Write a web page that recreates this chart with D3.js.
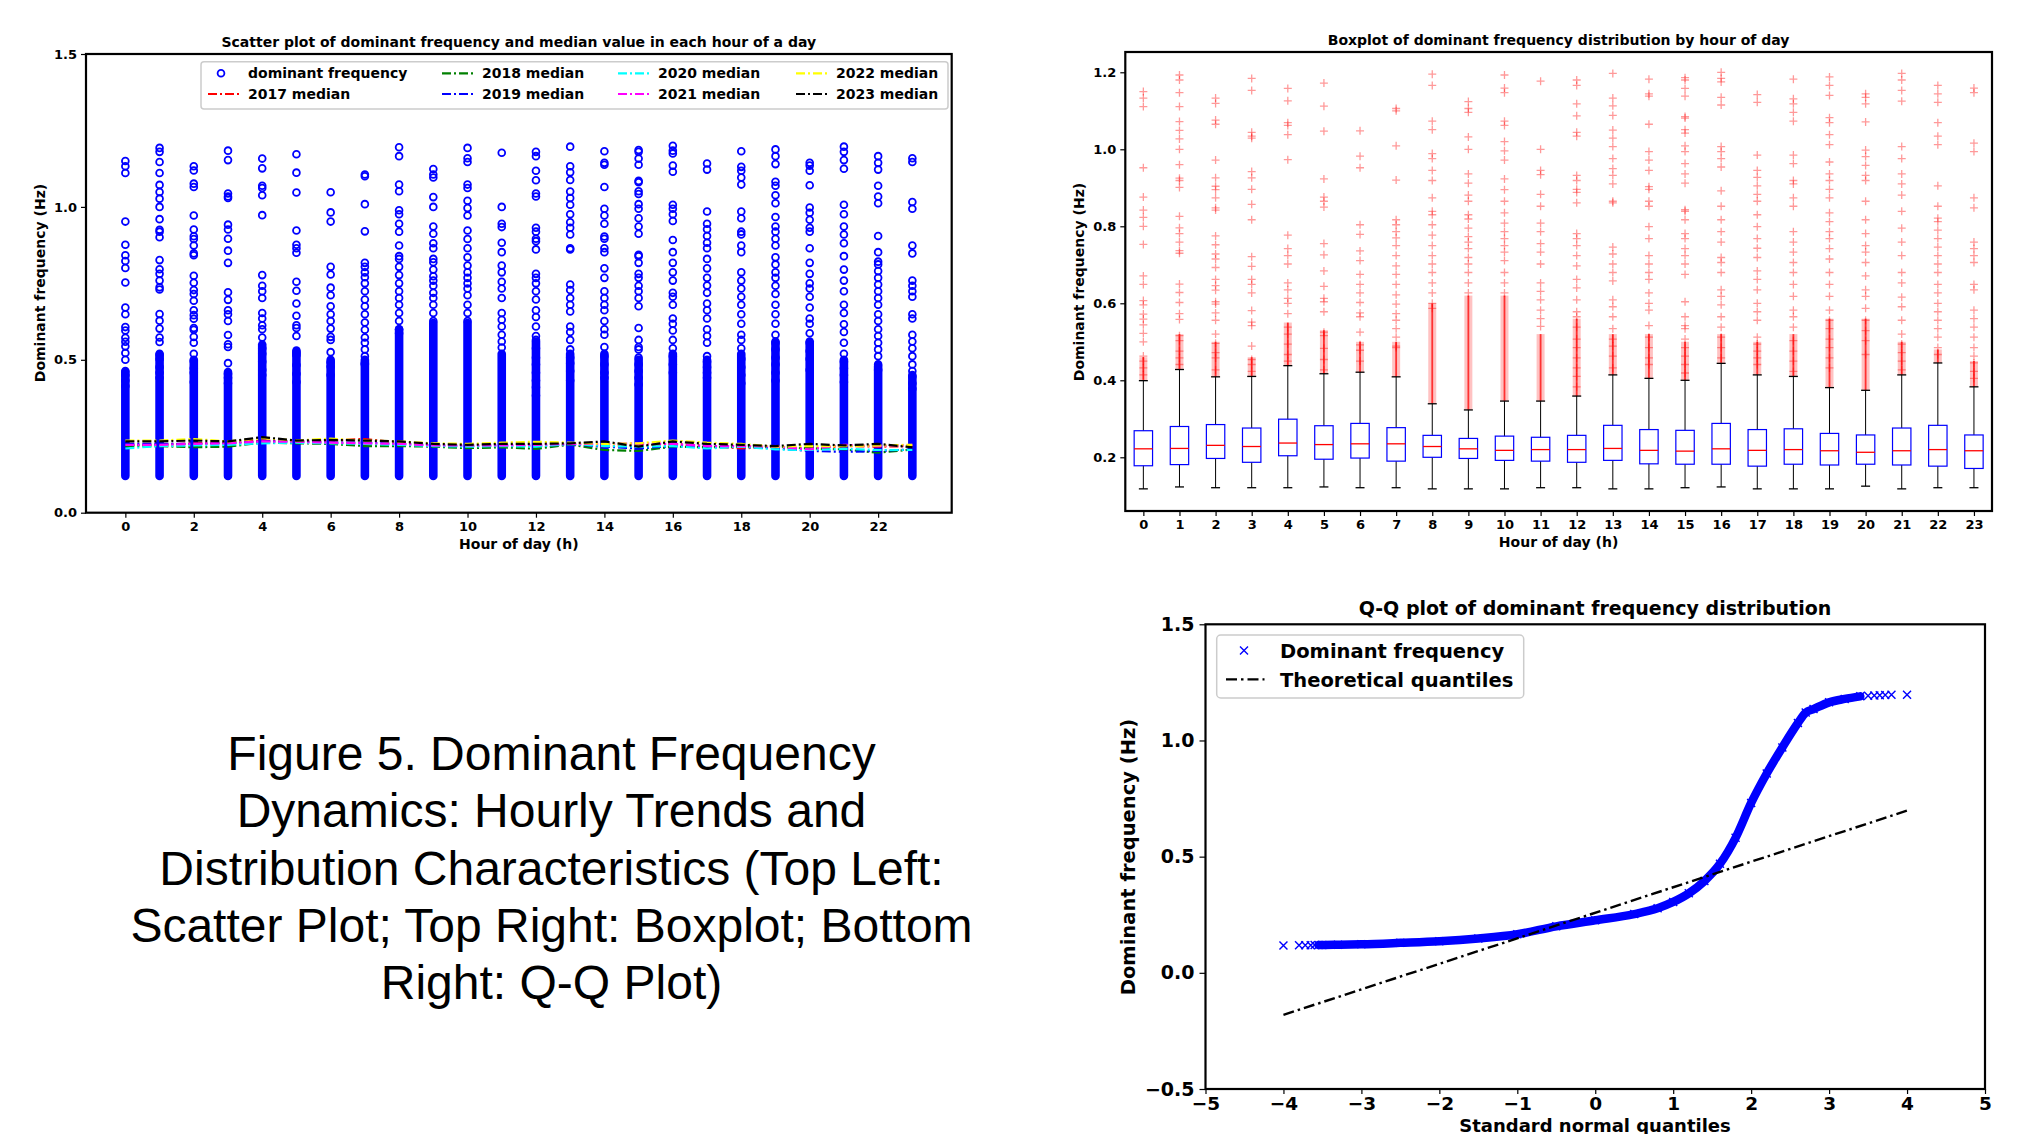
<!DOCTYPE html>
<html><head><meta charset="utf-8">
<script src="https://cdn.jsdelivr.net/npm/d3@7"></script>
<style>
body{margin:0;background:#fff;}
svg text{font-family:"DejaVu Sans";font-weight:bold;fill:#000;}
</style>
</head><body>
<svg id="c" width="2018" height="1134"></svg>
<script>
// ---------------- DATA ----------------
const hours = [0,1,2,3,4,5,6,7,8,9,10,11,12,13,14,15,16,17,18,19,20,21,22,23];
const scatterTicksX = [0,2,4,6,8,10,12,14,16,18,20,22];
const scatterTicksY = [0.0,0.5,1.0,1.5];
const boxTicksY = [0.2,0.4,0.6,0.8,1.0,1.2];
const qqTicksX = [-5,-4,-3,-2,-1,0,1,2,3,4,5];
const qqTicksY = [-0.5,0.0,0.5,1.0,1.5];

const median2017 = [0.222,0.222,0.227,0.229,0.236,0.234,0.236,0.241,0.229,0.222,0.220,0.222,0.223,0.225,0.216,0.220,0.225,0.218,0.210,0.216,0.210,0.218,0.216,0.218];
const median2018 = [0.218,0.218,0.214,0.216,0.229,0.227,0.225,0.218,0.218,0.216,0.211,0.214,0.209,0.223,0.205,0.202,0.216,0.214,0.216,0.216,0.210,0.207,0.196,0.207];
const median2019 = [0.225,0.225,0.225,0.227,0.233,0.233,0.229,0.229,0.225,0.220,0.218,0.220,0.218,0.224,0.216,0.210,0.218,0.216,0.216,0.210,0.202,0.199,0.202,0.207];
const median2020 = [0.210,0.218,0.220,0.222,0.227,0.229,0.227,0.225,0.222,0.218,0.216,0.218,0.216,0.225,0.218,0.216,0.218,0.210,0.216,0.207,0.205,0.209,0.205,0.205];
const median2021 = [0.222,0.222,0.225,0.227,0.233,0.232,0.229,0.227,0.225,0.220,0.220,0.220,0.222,0.225,0.225,0.227,0.225,0.218,0.218,0.216,0.207,0.222,0.218,0.222];
const median2022 = [0.236,0.236,0.241,0.233,0.244,0.236,0.242,0.236,0.233,0.227,0.225,0.229,0.232,0.229,0.225,0.227,0.236,0.229,0.225,0.216,0.218,0.218,0.220,0.222];
const median2023 = [0.233,0.233,0.236,0.233,0.247,0.236,0.238,0.236,0.233,0.225,0.222,0.225,0.225,0.227,0.233,0.216,0.233,0.225,0.222,0.218,0.225,0.220,0.225,0.214];

const boxQ1       = [0.178,0.181,0.197,0.187,0.204,0.195,0.198,0.190,0.200,0.197,0.192,0.190,0.187,0.192,0.183,0.182,0.182,0.177,0.182,0.180,0.182,0.180,0.177,0.171];
const boxMedian   = [0.222,0.223,0.231,0.228,0.237,0.233,0.235,0.235,0.228,0.222,0.218,0.220,0.220,0.223,0.218,0.216,0.222,0.218,0.220,0.217,0.213,0.217,0.220,0.217];
const boxQ3       = [0.269,0.280,0.285,0.276,0.299,0.282,0.288,0.277,0.257,0.249,0.255,0.252,0.257,0.283,0.272,0.270,0.288,0.272,0.274,0.262,0.258,0.276,0.283,0.258];
const whiskerLow  = [0.118,0.123,0.121,0.121,0.121,0.123,0.121,0.121,0.118,0.118,0.118,0.121,0.121,0.118,0.118,0.121,0.123,0.118,0.118,0.118,0.125,0.118,0.121,0.121];
const whiskerHigh = [0.399,0.428,0.409,0.410,0.438,0.417,0.421,0.409,0.339,0.323,0.346,0.346,0.359,0.414,0.405,0.400,0.444,0.414,0.410,0.381,0.374,0.414,0.445,0.383];
// upper end of the near-continuous run of flier values per hour
const denseTop    = [0.46,0.52,0.50,0.46,0.55,0.53,0.50,0.50,0.60,0.62,0.62,0.52,0.56,0.52,0.52,0.50,0.52,0.50,0.52,0.56,0.56,0.50,0.48,0.45];

const fliers = [
 [1.150,1.133,1.111,0.952,0.876,0.842,0.823,0.800,0.753,0.671,0.649,0.607,0.596,0.572,0.559,0.544,0.522,0.500,0.463,0.450,0.432,0.414],
 [1.193,1.180,1.147,1.111,1.072,1.049,1.027,1.000,0.960,0.925,0.919,0.901,0.826,0.796,0.781,0.759,0.737,0.730,0.650,0.628,0.602,0.573,0.558,0.516,0.503,0.476,0.458,0.441],
 [1.133,1.119,1.076,1.065,0.972,0.926,0.904,0.895,0.874,0.848,0.842,0.775,0.752,0.728,0.715,0.693,0.662,0.646,0.634,0.604,0.598,0.575,0.556,0.520,0.496,0.472,0.458,0.427],
 [1.184,1.153,1.044,1.034,1.029,0.942,0.926,0.896,0.857,0.817,0.721,0.696,0.662,0.649,0.627,0.581,0.551,0.542,0.489,0.454,0.441,0.423],
 [1.158,1.126,1.069,1.062,1.038,0.973,0.777,0.742,0.724,0.702,0.653,0.635,0.613,0.600,0.573,0.538,0.520,0.494,0.467,0.450],
 [1.172,1.112,1.047,0.923,0.876,0.865,0.850,0.755,0.726,0.684,0.644,0.613,0.604,0.578,0.525,0.516,0.483,0.454,0.427],
 [1.048,0.982,0.952,0.804,0.779,0.736,0.711,0.675,0.649,0.627,0.602,0.575,0.565,0.525,0.492,0.478,0.450],
 [1.106,1.100,1.009,0.920,0.817,0.804,0.786,0.770,0.750,0.724,0.697,0.675,0.649,0.622,0.598,0.573,0.556,0.534,0.512,0.489,0.485],
 [1.195,1.166,1.073,1.051,0.989,0.976,0.945,0.919,0.874,0.839,0.830,0.804,0.777,0.750,0.724,0.702,0.680,0.653,0.627,0.600,0.587],
 [1.124,1.106,1.096,1.032,1.000,0.936,0.912,0.881,0.865,0.830,0.819,0.795,0.773,0.759,0.742,0.719,0.702,0.680,0.653,0.627],
 [1.193,1.159,1.147,1.073,1.062,1.020,0.996,0.972,0.923,0.895,0.865,0.835,0.808,0.786,0.768,0.750,0.733,0.711,0.680,0.653,0.627],
 [1.177,1.000,0.945,0.934,0.883,0.852,0.808,0.786,0.755,0.733,0.702,0.653,0.631,0.609,0.582,0.560,0.540],
 [1.180,1.166,1.118,1.087,1.044,1.034,0.932,0.919,0.896,0.888,0.861,0.781,0.768,0.750,0.724,0.697,0.662,0.640,0.609,0.578,0.565,0.538,0.507,0.485,0.458,0.432,0.410,0.383],
 [1.197,1.133,1.113,1.088,1.050,1.029,1.007,0.976,0.950,0.932,0.910,0.865,0.861,0.746,0.728,0.702,0.680,0.658,0.609,0.591,0.565,0.534,0.507,0.489,0.463,0.432],
 [1.182,1.144,1.138,1.065,0.994,0.972,0.945,0.903,0.896,0.865,0.852,0.799,0.768,0.724,0.702,0.680,0.662,0.627,0.600,0.582,0.542,0.512,0.485,0.458,0.441],
 [1.186,1.180,1.158,1.138,1.085,1.081,1.051,1.042,1.009,0.994,0.963,0.936,0.912,0.843,0.839,0.817,0.781,0.768,0.742,0.724,0.702,0.675,0.604,0.565,0.542,0.534,0.507,0.485,0.463,0.441,0.419],
 [1.200,1.184,1.175,1.135,1.115,1.007,0.994,0.976,0.954,0.892,0.852,0.817,0.786,0.759,0.719,0.706,0.680,0.635,0.618,0.596,0.565,0.538,0.512,0.485,0.458],
 [1.142,1.122,0.985,0.945,0.927,0.905,0.883,0.865,0.830,0.799,0.768,0.743,0.719,0.684,0.662,0.635,0.600,0.578,0.556,0.512,0.494,0.476,0.458,0.441],
 [1.182,1.131,1.118,1.096,1.073,0.985,0.963,0.919,0.910,0.874,0.852,0.786,0.759,0.733,0.706,0.680,0.649,0.618,0.582,0.565,0.538,0.503,0.476,0.450,0.423],
 [1.188,1.166,1.140,1.082,1.069,1.038,1.012,0.967,0.936,0.919,0.896,0.874,0.835,0.812,0.786,0.768,0.742,0.715,0.680,0.649,0.618,0.582,0.556,0.534,0.507,0.485,0.458,0.432],
 [1.144,1.135,1.118,1.071,0.998,0.981,0.958,0.932,0.919,0.865,0.817,0.781,0.750,0.733,0.706,0.671,0.635,0.618,0.587,0.556,0.529,0.503,0.467],
 [1.197,1.180,1.153,1.125,1.007,0.976,0.936,0.910,0.881,0.839,0.795,0.759,0.724,0.680,0.653,0.616,0.591,0.556,0.520,0.494,0.472,0.450,0.427],
 [1.166,1.144,1.122,1.069,1.034,1.012,0.905,0.852,0.821,0.812,0.790,0.768,0.746,0.724,0.702,0.680,0.649,0.627,0.600,0.578,0.556,0.534,0.512,0.485,0.467],
 [1.159,1.147,1.016,0.994,0.874,0.848,0.759,0.742,0.724,0.706,0.649,0.635,0.582,0.560,0.538,0.512,0.485,0.463,0.445,0.423,0.405]
];
const scatterMin = 0.12;

const qqTheoretical = [-4.0,-3.8,-3.72,-3.65,-3.6,-3.55,-3.5,-3.3,-3.0,-2.5,-2.0,-1.5,-1.0,-0.5,0.0,0.5,0.8,1.0,1.2,1.4,1.6,1.8,2.0,2.2,2.4,2.6,2.7,2.8,3.0,3.2,3.4,3.5,3.58,3.65,3.72,3.8,4.0];
const qqSample      = [0.118,0.119,0.119,0.119,0.120,0.120,0.120,0.121,0.123,0.129,0.136,0.148,0.166,0.200,0.226,0.253,0.278,0.305,0.342,0.395,0.469,0.581,0.731,0.858,0.970,1.075,1.120,1.135,1.164,1.179,1.190,1.192,1.194,1.195,1.196,1.197,1.197];
const qqLineX = [-4, 4];
const qqLineY = [-0.181, 0.698];

const yearLabels = ["2017","2018","2019","2020","2021","2022","2023"];
const yearColors = ["#ff0000","#008000","#0000ff","#00ffff","#ff00ff","#ffff00","#000000"];
const medianSeries = [median2017,median2018,median2019,median2020,median2021,median2022,median2023];

const captionLines = ["Figure 5. Dominant Frequency","Dynamics: Hourly Trends and","Distribution Characteristics (Top Left:","Scatter Plot; Top Right: Boxplot; Bottom","Right: Q-Q Plot)"];

// ---------------- DRAW ----------------
const svg = d3.select("#c");
const dashDot = "9,3,2,3";

function styleAxis(g, fs){
  g.select(".domain").remove();
  g.selectAll(".tick line").attr("stroke","#000").attr("stroke-width",1.2);
  g.selectAll(".tick text").style("font-size",fs+"px").style("font-family","DejaVu Sans").style("font-weight","bold").attr("fill","#000");
}
function frame(x0,y0,x1,y1){
  svg.append("rect").attr("x",x0).attr("y",y0).attr("width",x1-x0).attr("height",y1-y0)
    .attr("fill","none").attr("stroke","#000").attr("stroke-width",2.2);
}

// ===== Scatter plot =====
const sx = d3.scaleLinear().domain([-1.15,24.15]).range([86,951.7]);
const sy = d3.scaleLinear().domain([0,1.5]).range([512.7,54]);
const gS = svg.append("g");
gS.selectAll("line.col").data(hours).join("line")
  .attr("x1",h=>sx(h)).attr("x2",h=>sx(h))
  .attr("y1",sy(scatterMin)).attr("y2",h=>sy(denseTop[h]))
  .attr("stroke","#0000ff").attr("stroke-width",8.6).attr("stroke-linecap","round");
hours.forEach(h=>{
  gS.selectAll(null).data(fliers[h]).join("circle")
    .attr("cx",sx(h)).attr("cy",v=>sy(v)).attr("r",3.4)
    .attr("fill","none").attr("stroke","#0000ff").attr("stroke-width",1.8);
});
const line = d3.line().x((d,i)=>sx(hours[i])).y(d=>sy(d));
medianSeries.forEach((s,k)=>{
  gS.append("path").attr("d",line(s)).attr("fill","none").attr("stroke",yearColors[k])
    .attr("stroke-width",2.2).attr("stroke-dasharray",dashDot);
});
frame(86,54,951.7,512.7);
svg.append("g").attr("transform","translate(0,512.7)")
  .call(d3.axisBottom(sx).tickValues(scatterTicksX).tickFormat(d3.format("d")).tickSize(5).tickPadding(4))
  .call(g=>styleAxis(g,13));
svg.append("g").attr("transform","translate(86,0)")
  .call(d3.axisLeft(sy).tickValues(scatterTicksY).tickFormat(d3.format(".1f")).tickSize(5).tickPadding(4))
  .call(g=>styleAxis(g,13));
svg.append("text").attr("x",518.8).attr("y",47).attr("text-anchor","middle").style("font-size","14px")
  .text("Scatter plot of dominant frequency and median value in each hour of a day");
svg.append("text").attr("x",518.8).attr("y",549).attr("text-anchor","middle").style("font-size","14px").text("Hour of day (h)");
svg.append("text").attr("transform","translate(45,283) rotate(-90)").attr("text-anchor","middle").style("font-size","14px").text("Dominant frequency (Hz)");
// legend
const lg = svg.append("g");
lg.append("rect").attr("x",201).attr("y",61.7).attr("width",747).attr("height",47.3).attr("rx",3)
  .attr("fill","#fff").attr("fill-opacity",0.85).attr("stroke","#cccccc").attr("stroke-width",1.5);
const legendItems = [{label:"dominant frequency",type:"circle",color:"#0000ff"}]
  .concat(yearLabels.map((y,i)=>({label:y+" median",type:"line",color:yearColors[i]})));
const colX = [203,437,613,791];
legendItems.forEach((it,i)=>{
  const col = Math.floor(i/2), row = i%2;
  const x0 = colX[col], yy = row===0?73.3:94;
  if(it.type==="circle"){
    lg.append("circle").attr("cx",x0+18).attr("cy",yy).attr("r",3.4).attr("fill","none").attr("stroke",it.color).attr("stroke-width",1.8);
  } else {
    lg.append("line").attr("x1",x0+5).attr("x2",x0+36).attr("y1",yy).attr("y2",yy)
      .attr("stroke",it.color).attr("stroke-width",2.2).attr("stroke-dasharray",dashDot);
  }
  lg.append("text").attr("x",x0+45).attr("y",yy+5).style("font-size","14px").text(it.label);
});

// ===== Boxplot =====
const bx = d3.scaleLinear().domain([-0.5,23.5]).range([1125.3,1992]);
const by = d3.scaleLinear().domain([0.0605,1.2527]).range([511,52]);
const gB = svg.append("g");
const bw = 9.2;
// dense flier runs
gB.selectAll("rect.dense").data(hours).join("rect")
  .attr("x",h=>bx(h)-4).attr("width",8)
  .attr("y",h=>by(denseTop[h])).attr("height",h=>by(whiskerHigh[h])-by(denseTop[h]))
  .attr("fill","#ff0000").attr("fill-opacity",0.24);
gB.selectAll("line.dense").data(hours).join("line")
  .attr("x1",h=>bx(h)).attr("x2",h=>bx(h)).attr("y1",h=>by(denseTop[h])).attr("y2",h=>by(whiskerHigh[h]))
  .attr("stroke","#ff0000").attr("stroke-width",1.8).attr("stroke-opacity",0.75);
hours.forEach(h=>{
  gB.selectAll(null).data(fliers[h]).join("path")
    .attr("d",v=>`M${bx(h)-4},${by(v)}H${bx(h)+4}M${bx(h)},${by(v)-4}V${by(v)+4}`)
    .attr("stroke","#ff0000").attr("stroke-opacity",0.4).attr("stroke-width",1.3).attr("fill","none");
});
hours.forEach(h=>{
  const cx = bx(h);
  gB.append("line").attr("x1",cx).attr("x2",cx).attr("y1",by(boxQ3[h])).attr("y2",by(whiskerHigh[h])).attr("stroke","#000").attr("stroke-width",1);
  gB.append("line").attr("x1",cx).attr("x2",cx).attr("y1",by(boxQ1[h])).attr("y2",by(whiskerLow[h])).attr("stroke","#000").attr("stroke-width",1);
  gB.append("line").attr("x1",cx-4.5).attr("x2",cx+4.5).attr("y1",by(whiskerHigh[h])).attr("y2",by(whiskerHigh[h])).attr("stroke","#000").attr("stroke-width",1.3);
  gB.append("line").attr("x1",cx-4.5).attr("x2",cx+4.5).attr("y1",by(whiskerLow[h])).attr("y2",by(whiskerLow[h])).attr("stroke","#000").attr("stroke-width",1.3);
  gB.append("rect").attr("x",cx-bw).attr("width",2*bw).attr("y",by(boxQ3[h])).attr("height",by(boxQ1[h])-by(boxQ3[h]))
    .attr("fill","none").attr("stroke","#0000ff").attr("stroke-width",1.2);
  gB.append("line").attr("x1",cx-bw).attr("x2",cx+bw).attr("y1",by(boxMedian[h])).attr("y2",by(boxMedian[h])).attr("stroke","#ff0000").attr("stroke-width",1.3);
});
frame(1125.3,52,1992,511);
svg.append("g").attr("transform","translate(0,511)")
  .call(d3.axisBottom(bx).tickValues(hours).tickFormat(d3.format("d")).tickSize(5).tickPadding(4))
  .call(g=>styleAxis(g,13));
svg.append("g").attr("transform","translate(1125.3,0)")
  .call(d3.axisLeft(by).tickValues(boxTicksY).tickFormat(d3.format(".1f")).tickSize(5).tickPadding(4))
  .call(g=>styleAxis(g,13));
svg.append("text").attr("x",1558.6).attr("y",45).attr("text-anchor","middle").style("font-size","14px")
  .text("Boxplot of dominant frequency distribution by hour of day");
svg.append("text").attr("x",1558.6).attr("y",547).attr("text-anchor","middle").style("font-size","14px").text("Hour of day (h)");
svg.append("text").attr("transform","translate(1084,282) rotate(-90)").attr("text-anchor","middle").style("font-size","14px").text("Dominant frequency (Hz)");

// ===== Q-Q plot =====
const qx = d3.scaleLinear().domain([-5,5]).range([1205.5,1985]);
const qy = d3.scaleLinear().domain([-0.5,1.5]).range([1089,624.3]);
const gQ = svg.append("g");
const qqPts = qqTheoretical.map((t,i)=>[t,qqSample[i]]);
const bandPts = qqPts.filter(p=>p[0]>=-3.55 && p[0]<=3.4);
gQ.append("path").attr("d",d3.line().x(p=>qx(p[0])).y(p=>qy(p[1])).curve(d3.curveMonotoneX)(bandPts))
  .attr("fill","none").attr("stroke","#0000ff").attr("stroke-width",8.5).attr("stroke-linejoin","round").attr("stroke-linecap","round");
gQ.selectAll("path.x").data(qqPts).join("path")
  .attr("d",p=>{const x=qx(p[0]),y=qy(p[1]);return `M${x-4},${y-4}L${x+4},${y+4}M${x-4},${y+4}L${x+4},${y-4}`;})
  .attr("stroke","#0000ff").attr("stroke-width",1.4).attr("fill","none");
gQ.append("line").attr("x1",qx(qqLineX[0])).attr("y1",qy(qqLineY[0])).attr("x2",qx(qqLineX[1])).attr("y2",qy(qqLineY[1]))
  .attr("stroke","#000").attr("stroke-width",2.4).attr("stroke-dasharray","11,4,2.5,4");
frame(1205.5,624.3,1985,1089);
svg.append("g").attr("transform","translate(0,1089)")
  .call(d3.axisBottom(qx).tickValues(qqTicksX).tickFormat(d3.format("d")).tickSize(5).tickPadding(3))
  .call(g=>styleAxis(g,18.5));
svg.append("g").attr("transform","translate(1205.5,0)")
  .call(d3.axisLeft(qy).tickValues(qqTicksY).tickFormat(d3.format(".1f")).tickSize(6).tickPadding(5))
  .call(g=>styleAxis(g,19));
svg.append("text").attr("x",1595).attr("y",615).attr("text-anchor","middle").style("font-size","19px")
  .text("Q-Q plot of dominant frequency distribution");
svg.append("text").attr("x",1595).attr("y",1131.5).attr("text-anchor","middle").style("font-size","18px").text("Standard normal quantiles");
svg.append("text").attr("transform","translate(1135,857) rotate(-90)").attr("text-anchor","middle").style("font-size","19.5px").text("Dominant frequency (Hz)");
const lq = svg.append("g");
lq.append("rect").attr("x",1216.7).attr("y",635).attr("width",307).attr("height",63).attr("rx",4)
  .attr("fill","#fff").attr("fill-opacity",0.85).attr("stroke","#cccccc").attr("stroke-width",1.5);
lq.append("path").attr("d","M1240,646.6L1248,654.6M1240,654.6L1248,646.6").attr("stroke","#0000ff").attr("stroke-width",1.4);
lq.append("text").attr("x",1280).attr("y",657.5).style("font-size","19.5px").text("Dominant frequency");
lq.append("line").attr("x1",1226).attr("x2",1264.5).attr("y1",679.4).attr("y2",679.4).attr("stroke","#000").attr("stroke-width",2.4).attr("stroke-dasharray","11,4,2.5,4");
lq.append("text").attr("x",1280).attr("y",686.5).style("font-size","19.5px").text("Theoretical quantiles");

// ===== Caption =====
svg.append("g").selectAll("text").data(captionLines).join("text")
  .attr("x",551.5).attr("y",(d,i)=>770+i*57.3).attr("text-anchor","middle")
  .style("font-family","'Liberation Sans', Arial, sans-serif").style("font-weight","normal").style("font-size","48px").attr("fill","#111")
  .text(d=>d);
</script>
</body></html>
